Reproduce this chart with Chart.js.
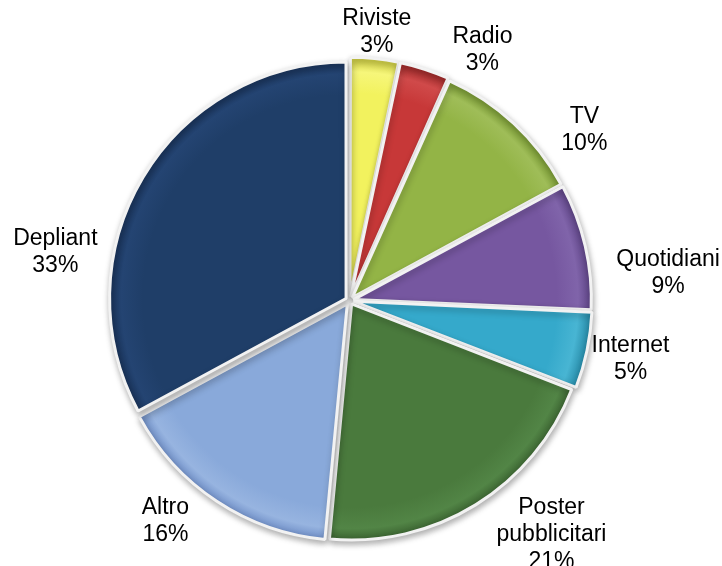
<!DOCTYPE html>
<html>
<head>
<meta charset="utf-8">
<style>
html,body{margin:0;padding:0;background:#fff;}
#wrap{width:722px;height:566px;position:relative;}
</style>
<script src="https://cdn.jsdelivr.net/npm/chart.js@4.4.1/dist/chart.umd.min.js"></script>
</head>
<body>
<div id="wrap"><canvas id="c" width="722" height="566"></canvas></div>
<script>
// Data
const categories = ["Riviste", "Radio", "TV", "Quotidiani", "Internet", "Poster pubblicitari", "Altro", "Depliant"];
const labelLines = [["Riviste"], ["Radio"], ["TV"], ["Quotidiani"], ["Internet"], ["Poster", "pubblicitari"], ["Altro"], ["Depliant"]];
const shares = [3.3, 3.4, 10.4, 8.6, 5.2, 20.6, 15.6, 32.9];

// Styles
const baseColors = ["#f2f25e", "#c73838", "#93b446", "#7657a0", "#35a9cb", "#4a7a3d", "#89a9da", "#1f3e68"];
const lightColors = ["#f6f67a", "#d04a4a", "#9fbd58", "#8064aa", "#48b5d3", "#528546", "#97b4e0", "#244472"];
const darkColors = ["#cfcf48", "#a22c2c", "#799a34", "#604688", "#2a8eab", "#3a6230", "#7190c8", "#19335a"];
// label anchor: [angle in degrees clockwise from top, distance as fraction of outer radius]
const labelAnchors = [[5.8, 1.145], [28, 1.2], [54, 1.23], [85.1, 1.355], [101.7, 1.216], [139.2, 1.31], [219.9, 1.216], [279.3, 1.263]];

function sliceFill(ctx) {
  const chart = ctx.chart;
  const a = chart.chartArea;
  const i = ctx.dataIndex;
  if (!a) return baseColors[i];
  const cx = (a.left + a.right) / 2, cy = (a.top + a.bottom) / 2;
  const r = Math.min(a.right - a.left, a.bottom - a.top) / 2 - 9;
  const g = chart.ctx.createRadialGradient(cx, cy, 0, cx, cy, r);
  g.addColorStop(0, baseColors[i]);
  g.addColorStop(0.86, baseColors[i]);
  g.addColorStop(0.95, lightColors[i]);
  g.addColorStop(1, darkColors[i]);
  return g;
}

const shadowPlugin = {
  id: 'pieShadow',
  beforeDatasetsDraw(chart) {
    const c = chart.ctx;
    c.save();
    c.shadowColor = 'rgba(0,0,0,0.3)';
    c.shadowBlur = 6;
    c.shadowOffsetX = 1;
    c.shadowOffsetY = 3;
  },
  afterDatasetsDraw(chart) {
    chart.ctx.restore();
  }
};

const labelPlugin = {
  id: 'outLabels',
  afterDraw(chart) {
    const c = chart.ctx;
    const meta = chart.getDatasetMeta(0);
    c.save();
    c.font = '23px "Liberation Sans", Arial, sans-serif';
    c.fillStyle = '#000';
    c.textAlign = 'center';
    c.textBaseline = 'middle';
    const lh = 27;
    meta.data.forEach((arc, i) => {
      const p = arc.getProps(['x', 'y', 'outerRadius'], true);
      const ang = labelAnchors[i][0] * Math.PI / 180;
      const d = p.outerRadius * labelAnchors[i][1];
      const lx = p.x + Math.sin(ang) * d;
      const ly = p.y - Math.cos(ang) * d;
      const lines = labelLines[i].concat([Math.round(shares[i]) + '%']);
      const y0 = ly - (lines.length - 1) * lh / 2;
      lines.forEach((t, k) => c.fillText(t, lx, y0 + k * lh));
    });
    c.restore();
  }
};

new Chart(document.getElementById('c'), {
  type: 'pie',
  data: {
    labels: categories,
    datasets: [{
      data: shares,
      backgroundColor: sliceFill,
      borderColor: '#f2f2f2',
      borderWidth: 3,
      offset: 16
    }]
  },
  options: {
    responsive: false,
    animation: false,
    layout: { padding: { top: 55, bottom: 20, left: 104, right: 127 } },
    plugins: { legend: { display: false }, tooltip: { enabled: false } }
  },
  plugins: [shadowPlugin, labelPlugin]
});
</script>
</body>
</html>
